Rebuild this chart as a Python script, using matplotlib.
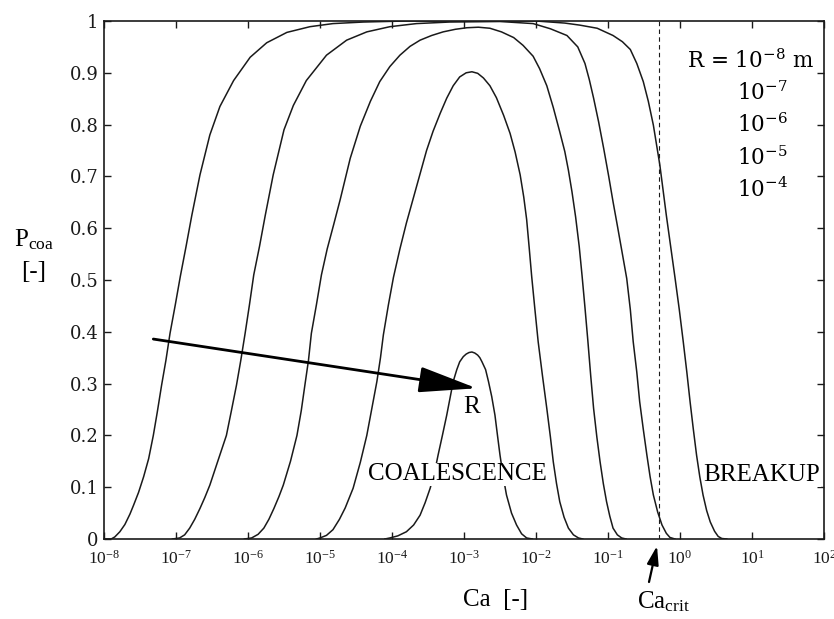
import numpy as np
import matplotlib
matplotlib.use("Agg")
import matplotlib.pyplot as plt
from matplotlib.ticker import NullLocator

plt.rcParams["font.family"] = ["Liberation Serif", "DejaVu Serif"]
plt.rcParams["mathtext.fontset"] = "custom"
plt.rcParams["mathtext.rm"] = "DejaVu Serif"
plt.rcParams["mathtext.it"] = "DejaVu Serif:italic"

# curves: log10(Ca) and P_coa, one pair per drop radius
LOGCA_R1E8 = [-8.0, -7.90, -7.85, -7.78, -7.71, -7.64, -7.59, -7.52, -7.45, -7.38, -7.315,
              -7.26, -7.20, -7.14, -7.083, -7.01, -6.94, -6.86, -6.78, -6.667, -6.53, -6.39,
              -6.20, -5.97, -5.74, -5.46, -5.14, -4.82, -4.4, -3.8, -2.0, -1.6, -1.39, -1.15,
              -0.93, -0.80, -0.69, -0.60, -0.51, -0.44, -0.37, -0.28, -0.19, -0.13, -0.07,
              -0.01, 0.045, 0.095, 0.14, 0.185, 0.23, 0.275, 0.32, 0.37, 0.42, 0.48, 0.53,
              0.58, 0.65]
P_R1E8 = [0.0, 0.0, 0.004, 0.014, 0.028, 0.048, 0.065, 0.090, 0.120, 0.155, 0.20,
          0.245, 0.297, 0.345, 0.397, 0.452, 0.507, 0.565, 0.625, 0.703, 0.78, 0.835,
          0.885, 0.930, 0.958, 0.978, 0.989, 0.995, 0.998, 1.0, 1.0, 0.996, 0.992, 0.986,
          0.972, 0.960, 0.945, 0.918, 0.883, 0.845, 0.799, 0.722, 0.625, 0.565, 0.505,
          0.443, 0.381, 0.322, 0.265, 0.212, 0.162, 0.120, 0.085, 0.055, 0.033, 0.015, 0.005,
          0.001, 0.0]

LOGCA_R1E7 = [-7.05, -6.95, -6.88, -6.81, -6.74, -6.667, -6.60, -6.53, -6.42, -6.30, -6.23,
              -6.16, -6.10, -6.04, -5.98, -5.92, -5.84, -5.76, -5.65, -5.50, -5.37, -5.19,
              -4.91, -4.63, -4.35, -4.03, -3.66, -3.2, -2.5, -2.04, -1.80, -1.57, -1.42,
              -1.32, -1.26, -1.20, -1.13, -1.06, -0.99, -0.93, -0.87, -0.81, -0.74, -0.69,
              -0.65, -0.60, -0.56, -0.51, -0.46, -0.415, -0.37, -0.31, -0.25, -0.19, -0.14,
              -0.07]
P_R1E7 = [0.0, 0.002, 0.008, 0.021, 0.038, 0.059, 0.080, 0.104, 0.150, 0.20, 0.248,
          0.297, 0.345, 0.397, 0.452, 0.51, 0.565, 0.625, 0.703, 0.79, 0.837, 0.885,
          0.934, 0.963, 0.979, 0.989, 0.995, 0.998, 0.999, 0.995, 0.985, 0.972, 0.950,
          0.918, 0.887, 0.851, 0.805, 0.754, 0.700, 0.651, 0.605, 0.558, 0.503, 0.443,
          0.381, 0.322, 0.265, 0.212, 0.162, 0.120, 0.085, 0.052, 0.027, 0.011, 0.003,
          0.0]

LOGCA_R1E6 = [-6.05, -5.95, -5.86, -5.78, -5.71, -5.64, -5.57, -5.51, -5.41, -5.32, -5.26,
              -5.21, -5.16, -5.12, -5.05, -4.98, -4.90, -4.81, -4.72, -4.58, -4.44, -4.30,
              -4.17, -4.03, -3.89, -3.75, -3.61, -3.45, -3.29, -3.12, -2.96, -2.80, -2.64,
              -2.48, -2.31, -2.18, -2.04, -1.95, -1.85, -1.76, -1.67, -1.60, -1.55, -1.50,
              -1.45, -1.40, -1.36, -1.32, -1.28, -1.24, -1.20, -1.155, -1.11, -1.065, -1.02,
              -0.975, -0.93, -0.87, -0.81, -0.75]
P_R1E6 = [0.0, 0.002, 0.009, 0.021, 0.038, 0.059, 0.082, 0.104, 0.150, 0.20, 0.248,
          0.297, 0.345, 0.397, 0.452, 0.51, 0.560, 0.607, 0.655, 0.735, 0.797, 0.845,
          0.883, 0.912, 0.934, 0.951, 0.963, 0.972, 0.979, 0.984, 0.987, 0.988, 0.986,
          0.979, 0.968, 0.953, 0.932, 0.908, 0.875, 0.833, 0.786, 0.748, 0.712, 0.670,
          0.622, 0.565, 0.508, 0.447, 0.383, 0.315, 0.252, 0.197, 0.149, 0.107, 0.072,
          0.044, 0.021, 0.008, 0.002, 0.0]

LOGCA_R1E5 = [-5.05, -5.0, -4.91, -4.82, -4.73, -4.65, -4.54, -4.44, -4.35, -4.28, -4.21,
              -4.16, -4.12, -4.05, -3.98, -3.89, -3.80, -3.70, -3.61, -3.52, -3.43, -3.33,
              -3.24, -3.15, -3.06, -2.97, -2.89, -2.81, -2.73, -2.64, -2.55, -2.45, -2.36,
              -2.29, -2.22, -2.17, -2.13, -2.095, -2.06, -2.015, -1.97, -1.91, -1.85, -1.80,
              -1.76, -1.715, -1.67, -1.61, -1.55, -1.48, -1.41, -1.35]
P_R1E5 = [0.0, 0.002, 0.007, 0.018, 0.038, 0.060, 0.098, 0.148, 0.20, 0.252, 0.304,
          0.350, 0.394, 0.452, 0.505, 0.560, 0.610, 0.660, 0.705, 0.750, 0.787, 0.822,
          0.851, 0.875, 0.892, 0.900, 0.902, 0.899, 0.890, 0.875, 0.852, 0.818, 0.783,
          0.747, 0.703, 0.660, 0.617, 0.563, 0.507, 0.443, 0.381, 0.315, 0.252, 0.197,
          0.149, 0.107, 0.072, 0.042, 0.021, 0.008, 0.002, 0.0]

LOGCA_R1E4 = [-4.10, -4.03, -3.92, -3.80, -3.70, -3.61, -3.54, -3.47, -3.41, -3.36, -3.30,
              -3.24, -3.19, -3.15, -3.10, -3.06, -3.01, -2.97, -2.93, -2.89, -2.85, -2.81,
              -2.78, -2.75, -2.70, -2.66, -2.615, -2.57, -2.535, -2.50, -2.455, -2.41, -2.34,
              -2.27, -2.20, -2.13, -2.05]
P_R1E4 = [0.0, 0.002, 0.006, 0.014, 0.027, 0.046, 0.070, 0.098, 0.128, 0.162, 0.200,
          0.239, 0.275, 0.304, 0.327, 0.342, 0.352, 0.357, 0.360, 0.361, 0.359, 0.355,
          0.350, 0.342, 0.327, 0.304, 0.275, 0.239, 0.200, 0.162, 0.120, 0.085, 0.050,
          0.027, 0.010, 0.002, 0.0]

CURVES = [(LOGCA_R1E8, P_R1E8), (LOGCA_R1E7, P_R1E7), (LOGCA_R1E6, P_R1E6),
          (LOGCA_R1E5, P_R1E5), (LOGCA_R1E4, P_R1E4)]

LOG_CA_CRIT = -0.29
ARROW_FROM = (-7.315, 0.386)
ARROW_TO = (-2.824, 0.291)

XTICK_EXP = [-8, -7, -6, -5, -4, -3, -2, -1, 0, 1, 2]
YTICKS = [0, 0.1, 0.2, 0.3, 0.4, 0.5, 0.6, 0.7, 0.8, 0.9, 1]
YTICK_LABELS = ["0", "0.1", "0.2", "0.3", "0.4", "0.5", "0.6", "0.7", "0.8", "0.9", "1"]
R_LABELS = ["-8", "-7", "-6", "-5", "-4"]

W, H = 834, 619
fig = plt.figure(figsize=(W / 100, H / 100), dpi=100)
ax = fig.add_axes([104 / W, 1 - 539 / H, 720 / W, 518 / H])

for logca, p in CURVES:
    ax.plot(10.0 ** np.array(logca), p, color="#1a1a1a", lw=1.1, solid_joinstyle="round")

ax.axvline(10.0 ** LOG_CA_CRIT, color="#1a1a1a", lw=0.8, ls=(0, (4, 3)))

ax.annotate("", xy=(10.0 ** ARROW_TO[0], ARROW_TO[1]),
            xytext=(10.0 ** ARROW_FROM[0], ARROW_FROM[1]),
            arrowprops=dict(arrowstyle="-|>,head_length=1.8,head_width=0.4",
                            mutation_scale=20, lw=2.0, color="k", shrinkA=0, shrinkB=0))

ax.text(10.0 ** -2.89, 0.255, "R", fontsize=18, ha="center", va="center")
ax.text(10.0 ** -3.09, 0.125, "COALESCENCE", fontsize=18, ha="center", va="center",
        bbox=dict(facecolor="white", edgecolor="none", pad=0.5))
ax.text(10.0 ** 1.134, 0.124, "BREAKUP", fontsize=18, ha="center", va="center",
        bbox=dict(facecolor="white", edgecolor="none", pad=0.5))

ax.set_xscale("log")
ax.set_xlim(1e-8, 1e2)
ax.set_ylim(0, 1)
ax.set_xticks([10.0 ** e for e in XTICK_EXP])
ax.set_xticklabels([r"$\mathregular{10^{%d}}$" % e for e in XTICK_EXP], fontsize=12.5)
ax.xaxis.set_minor_locator(NullLocator())
ax.set_yticks(YTICKS)
ax.set_yticklabels(YTICK_LABELS, fontsize=13, family="DejaVu Serif")
ax.tick_params(direction="in", top=True, right=True, length=5, width=1, colors="#1a1a1a")
ax.tick_params(axis="x", pad=8)
ax.tick_params(axis="y", pad=4)
for s in ax.spines.values():
    s.set_linewidth(1.2)
    s.set_color("#1a1a1a")

# axis labels placed as loose text, like the scanned figure
fig.text(34 / W, 1 - 240 / H, r"P$_{\mathregular{coa}}$", fontsize=18, ha="center", va="center")
fig.text(34 / W, 1 - 272 / H, "[-]", fontsize=18, ha="center", va="center")
fig.text(496 / W, 1 - 600 / H, "Ca  [-]", fontsize=18, ha="center", va="center")
fig.text(637 / W, 1 - 608 / H, r"Ca$_{\mathregular{crit}}$", fontsize=18, ha="left", va="baseline")
ax.annotate("", xy=(657 / W, 1 - 546 / H), xytext=(649 / W, 1 - 582 / H),
            xycoords="figure fraction", textcoords="figure fraction",
            arrowprops=dict(arrowstyle="-|>,head_length=0.8,head_width=0.25",
                            mutation_scale=14, lw=1.6, color="k", shrinkA=0, shrinkB=0))

# radius list, top right
fig.text(687 / W, 1 - 68 / H, r"R = 10$^{\mathregular{-8}}$ m", fontsize=15.5,
         family="DejaVu Serif", ha="left", va="baseline")
for i, lab in enumerate(R_LABELS[1:]):
    fig.text(737 / W, 1 - (100 + 32.3 * i) / H, r"10$^{\mathregular{%s}}$" % lab,
             fontsize=15.5, family="DejaVu Serif", ha="left", va="baseline")

fig.savefig("out.png", dpi=100)
